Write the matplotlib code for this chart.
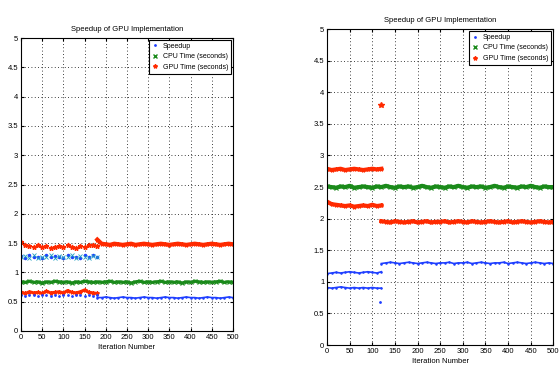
import numpy as np
import matplotlib.pyplot as plt
from matplotlib.ticker import FormatStrFormatter

# iteration samples (every 10 iterations)
it_all = list(range(0, 501, 10))
it_pre_l = list(range(0, 181, 10))
it_post_l = list(range(180, 501, 10))
it_pre_r = list(range(0, 121, 10))
it_post_r = list(range(120, 501, 10))

# ---- left panel values ----
l_cpu = [0.84, 0.83, 0.85, 0.83, 0.84, 0.82, 0.84, 0.83, 0.85, 0.84,
         0.83, 0.84, 0.82, 0.84, 0.83, 0.85, 0.84, 0.83, 0.84, 0.83,
         0.84, 0.85, 0.83, 0.84, 0.83, 0.84, 0.82, 0.84, 0.85, 0.83,
         0.84, 0.83, 0.84, 0.85, 0.83, 0.84, 0.83, 0.84, 0.82, 0.84,
         0.83, 0.85, 0.84, 0.83, 0.84, 0.83, 0.84, 0.85, 0.83, 0.84, 0.83]
l_gpu_low = [0.66, 0.64, 0.67, 0.65, 0.66, 0.64, 0.68, 0.65, 0.66, 0.67,
             0.65, 0.69, 0.66, 0.65, 0.67, 0.70, 0.66, 0.65, 0.64]
l_gpu_high = [1.52, 1.47, 1.45, 1.44, 1.46, 1.43, 1.45, 1.42, 1.44, 1.45,
              1.43, 1.46, 1.44, 1.42, 1.45, 1.43, 1.46, 1.47, 1.45]
l_gpu_post = [1.56, 1.49, 1.48, 1.47, 1.49, 1.48, 1.47, 1.48, 1.49, 1.47,
              1.48, 1.49, 1.48, 1.47, 1.48, 1.49, 1.48, 1.47, 1.48, 1.49,
              1.48, 1.47, 1.48, 1.49, 1.48, 1.47, 1.48, 1.49, 1.48, 1.47,
              1.48, 1.49, 1.48]
l_spd_high = [1.28, 1.25, 1.30, 1.26, 1.27, 1.24, 1.29, 1.26, 1.28, 1.27,
              1.25, 1.29, 1.26, 1.27, 1.25, 1.30, 1.27, 1.29, 1.26]
l_cpu_high = [1.26, 1.28, 1.24, 1.29, 1.25, 1.27, 1.26, 1.30, 1.25, 1.28,
              1.26, 1.27, 1.29, 1.25, 1.28, 1.26, 1.24, 1.28, 1.27]
l_spd_low = [0.61, 0.60, 0.62, 0.61, 0.60, 0.61, 0.62, 0.60, 0.61, 0.60,
             0.62, 0.61, 0.60, 0.61, 0.62, 0.60, 0.61, 0.60, 0.61]
l_spd_post = [0.57, 0.57, 0.58, 0.57, 0.56, 0.57, 0.58, 0.57, 0.57, 0.56,
              0.57, 0.58, 0.57, 0.57, 0.56, 0.57, 0.58, 0.57, 0.57, 0.56,
              0.57, 0.58, 0.57, 0.57, 0.56, 0.57, 0.58, 0.57, 0.57, 0.56,
              0.57, 0.58, 0.57]

# ---- right panel values ----
r_cpu = [2.51, 2.50, 2.49, 2.51, 2.50, 2.52, 2.49, 2.50, 2.51, 2.50,
         2.49, 2.51, 2.50, 2.52, 2.50, 2.49, 2.51, 2.50, 2.51, 2.49,
         2.50, 2.52, 2.50, 2.49, 2.51, 2.50, 2.49, 2.51, 2.50, 2.52,
         2.50, 2.49, 2.51, 2.50, 2.51, 2.49, 2.50, 2.52, 2.50, 2.49,
         2.51, 2.50, 2.49, 2.51, 2.50, 2.52, 2.50, 2.49, 2.51, 2.50, 2.50]
r_gpu_a = [2.79, 2.77, 2.78, 2.79, 2.77, 2.78, 2.79, 2.78, 2.77, 2.78,
           2.79, 2.78, 2.79]
r_gpu_b = [2.27, 2.23, 2.22, 2.21, 2.20, 2.21, 2.19, 2.20, 2.21, 2.20,
           2.22, 2.20, 2.21]
r_gpu_post = [1.96, 1.95, 1.94, 1.96, 1.95, 1.94, 1.95, 1.96, 1.94, 1.95,
              1.96, 1.94, 1.95, 1.95, 1.96, 1.94, 1.95, 1.96, 1.95, 1.94,
              1.96, 1.95, 1.94, 1.95, 1.96, 1.95, 1.94, 1.95, 1.96, 1.94,
              1.95, 1.96, 1.95, 1.94, 1.95, 1.96, 1.95, 1.94, 1.95]
r_gpu_out = (120, 3.8)
r_spd_a = [1.13, 1.14, 1.15, 1.14, 1.15, 1.16, 1.15, 1.14, 1.15, 1.16,
           1.15, 1.14, 1.16]
r_spd_b = [0.91, 0.90, 0.91, 0.92, 0.91, 0.90, 0.91, 0.90, 0.91, 0.90,
           0.91, 0.90, 0.90]
r_spd_post = [1.29, 1.30, 1.31, 1.30, 1.29, 1.30, 1.31, 1.30, 1.29, 1.30,
              1.31, 1.30, 1.29, 1.30, 1.30, 1.31, 1.29, 1.30, 1.30, 1.31,
              1.29, 1.30, 1.31, 1.30, 1.29, 1.30, 1.30, 1.31, 1.29, 1.30,
              1.31, 1.30, 1.29, 1.30, 1.31, 1.30, 1.29, 1.30, 1.29]
r_spd_out = (118, 0.68)

FS = 5.5
plt.rcParams['font.family'] = ['Liberation Sans', 'DejaVu Sans']
fig = plt.figure(figsize=(5.59, 3.69), dpi=100)
axl = fig.add_axes([0.0376, 0.103, 0.379, 0.794])
axr = fig.add_axes([0.585, 0.065, 0.405, 0.856])

BLUE = '#1f3fff'
GREEN = '#1a8a1a'
RED = '#ff2a00'


def band(ax, x, y, c, m, ms=3, lw=2.2):
    ax.plot(x, y, color=c, lw=lw, marker=m, ms=ms, mew=0.8)


def style(ax):
    ax.set_xlim(0, 500)
    ax.set_ylim(0, 5)
    ax.set_xticks(range(0, 501, 50))
    ax.set_yticks(np.arange(0, 5.01, 0.5))
    ax.yaxis.set_major_formatter(FormatStrFormatter('%g'))
    ax.grid(True, color='black', ls=(0, (1, 3)), lw=0.6)
    ax.tick_params(direction='in', labelsize=FS, length=2, top=True, right=True, pad=2)
    for s in ax.spines.values():
        s.set_linewidth(0.8)
    ax.set_title('Speedup of GPU Implementation', fontsize=FS, pad=5)
    ax.set_xlabel('Iteration Number', fontsize=FS, labelpad=2)
    h1 = ax.plot([], [], '.', color=BLUE, ms=2, label='Speedup')[0]
    h2 = ax.plot([], [], 'x', color=GREEN, ms=3, label='CPU Time (seconds)')[0]
    h3 = ax.plot([], [], '*', color=RED, ms=3, label='GPU Time (seconds)')[0]
    leg = ax.legend(handles=[h1, h2, h3], loc='upper right', fontsize=5,
                    fancybox=False, edgecolor='black', framealpha=1,
                    borderaxespad=0.3, handlelength=1.0, handletextpad=0.6,
                    labelspacing=0.5)
    leg.get_frame().set_linewidth(0.8)


# left panel
band(axl, it_all, l_cpu, GREEN, 'x')
band(axl, it_pre_l, l_gpu_low, RED, '*')
axl.plot(it_pre_l, l_gpu_high, '*', color=RED, ms=3.5, lw=0)
band(axl, it_post_l, l_gpu_post, RED, '*', lw=3)
axl.plot(it_pre_l, l_spd_high, '.', color=BLUE, ms=3)
axl.plot(it_pre_l, l_cpu_high, 'x', color='#20a0c0', ms=2.5, mew=0.6)
axl.plot(it_pre_l, l_spd_low, '.', color=BLUE, ms=2)
band(axl, it_post_l, l_spd_post, BLUE, '.', ms=2, lw=1.2)
style(axl)

# right panel
band(axr, it_all, r_cpu, GREEN, 'x', lw=3)
band(axr, it_pre_r, r_gpu_a, RED, '*', lw=3)
band(axr, it_pre_r, r_gpu_b, RED, '*', lw=3)
band(axr, it_post_r, r_gpu_post, RED, '*', lw=3)
axr.plot(*r_gpu_out, '*', color=RED, ms=4)
band(axr, it_pre_r, r_spd_a, BLUE, '.', ms=2, lw=1.2)
band(axr, it_pre_r, r_spd_b, BLUE, '.', ms=2, lw=1.2)
band(axr, it_post_r, r_spd_post, BLUE, '.', ms=2, lw=1.2)
axr.plot(*r_spd_out, '.', color=BLUE, ms=2)
style(axr)

fig.savefig('out.png', dpi=100)
